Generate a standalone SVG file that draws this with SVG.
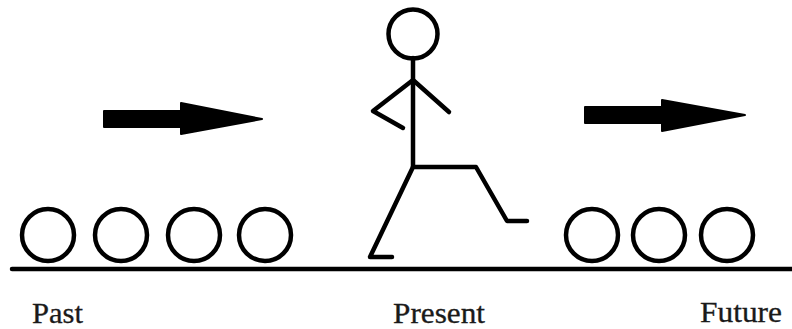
<svg xmlns="http://www.w3.org/2000/svg" width="792" height="329" viewBox="0 0 792 329">
<style>
.l{fill:none;stroke:#000;stroke-width:4.5;stroke-linecap:round;stroke-linejoin:round}
.c{fill:#fff;stroke:#000;stroke-width:4.5}
.a{fill:#000;stroke:#000;stroke-width:2;stroke-linejoin:round}
.t{font-family:"Liberation Serif","Times New Roman",serif;font-size:28.5px;fill:#1a1a1a;stroke:#1a1a1a;stroke-width:.3}
</style>
<rect width="792" height="329" fill="#fff"/>
<g id="ground"><path class="l" d="M12 269H792"/></g>
<g id="arrow-past"><path class="a" d="M104 111H181V103L262 119L181 134V127H104Z"/></g>
<g id="arrow-future"><path class="a" d="M585 107H662V100L745 115L662 131V123H585Z"/></g>
<g id="person">
<circle class="c" cx="413" cy="34" r="24.5"/>
<path class="l" d="M413 58V167"/>
<path class="l" d="M449 112L413 80L373 111L403 128"/>
<path class="l" d="M392 257H370L413 167H476L507 221H527"/>
</g>
<g id="past-1"><circle class="c" cx="48" cy="235" r="26"/></g>
<g id="past-2"><circle class="c" cx="121" cy="235" r="26"/></g>
<g id="past-3"><circle class="c" cx="194" cy="235" r="26"/></g>
<g id="past-4"><circle class="c" cx="265" cy="235" r="26"/></g>
<g id="future-1"><circle class="c" cx="592" cy="235" r="26"/></g>
<g id="future-2"><circle class="c" cx="659" cy="235" r="26"/></g>
<g id="future-3"><circle class="c" cx="727" cy="235" r="26"/></g>
<text class="t" x="32" y="322.8" textLength="51" lengthAdjust="spacingAndGlyphs">Past</text>
<text class="t" x="393" y="322.8" textLength="92" lengthAdjust="spacingAndGlyphs">Present</text>
<text class="t" x="700" y="322" textLength="82" lengthAdjust="spacingAndGlyphs">Future</text>
</svg>
